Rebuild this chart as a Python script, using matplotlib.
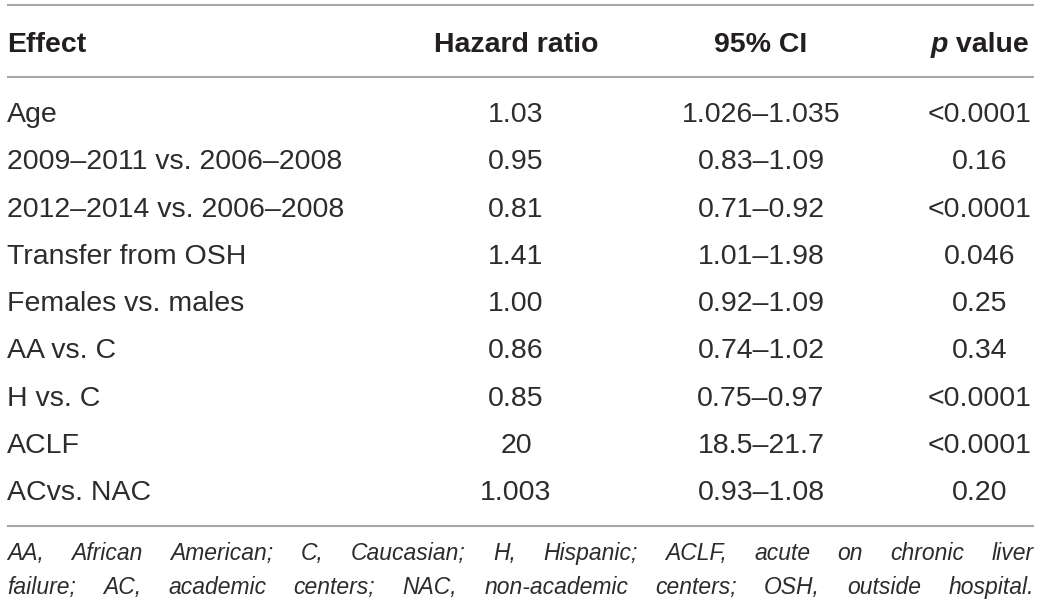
import matplotlib
matplotlib.use("Agg")
import matplotlib.pyplot as plt

effects = ["Age", "2009–2011 vs. 2006–2008", "2012–2014 vs. 2006–2008",
           "Transfer from OSH", "Females vs. males", "AA vs. C", "H vs. C",
           "ACLF", "ACvs. NAC"]
hazard = ["1.03", "0.95", "0.81", "1.41", "1.00", "0.86", "0.85", "20", "1.003"]
ci = ["1.026–1.035", "0.83–1.09", "0.71–0.92", "1.01–1.98", "0.92–1.09",
      "0.74–1.02", "0.75–0.97", "18.5–21.7", "0.93–1.08"]
pvals = ["<0.0001", "0.16", "<0.0001", "0.046", "0.25", "0.34", "<0.0001",
         "<0.0001", "0.20"]
footnote = ["AA, African American; C, Caucasian; H, Hispanic; ACLF, acute on chronic liver",
            "failure; AC, academic centers; NAC, non-academic centers; OSH, outside hospital."]

W, H = 1043, 612
FONT = "Liberation Sans"
TXT = "#231f20"
BODY = "#2e2b2c"
RULE = "#a6a6a6"

fig = plt.figure(figsize=(W / 100, H / 100), dpi=100)
ax = fig.add_axes([0, 0, 1, 1])
ax.set_xlim(0, W)
ax.set_ylim(H, 0)
ax.axis("off")

left, right = 7, 1034
col_hr, col_ci, col_p = 516, 761, 980
fs = 20.5

# rules
for y in (5, 77, 526):
    ax.plot([left, right], [y, y], color=RULE, lw=1.5, solid_capstyle="butt")

# header
hy = 52
ax.text(left, hy, "Effect", fontsize=fs, fontweight="bold", family=FONT,
        color=TXT, va="baseline", ha="left")
ax.text(col_hr, hy, "Hazard ratio", fontsize=fs, fontweight="bold", family=FONT,
        color=TXT, va="baseline", ha="center")
ax.text(col_ci, hy, "95% CI", fontsize=fs, fontweight="bold", family=FONT,
        color=TXT, va="baseline", ha="center")

fig.canvas.draw()
renderer = fig.canvas.get_renderer()
tp = ax.text(0, hy, "p", fontsize=fs, fontweight="bold", fontstyle="italic",
             family=FONT, color=TXT, va="baseline", ha="left")
tv = ax.text(0, hy, "\u00a0value", fontsize=fs, fontweight="bold", family=FONT,
             color=TXT, va="baseline", ha="left")
wp = tp.get_window_extent(renderer).width
wv = tv.get_window_extent(renderer).width
x0 = col_p - (wp + wv) / 2
tp.set_x(x0)
tv.set_x(x0 + wp)

# body rows
y0, dy = 122, 47.3
for i in range(len(effects)):
    y = y0 + i * dy
    ax.text(left, y, effects[i], fontsize=fs, family=FONT, color=BODY,
            va="baseline", ha="left")
    ax.text(col_hr, y, hazard[i], fontsize=fs, family=FONT, color=BODY,
            va="baseline", ha="center")
    ax.text(col_ci, y, ci[i], fontsize=fs, family=FONT, color=BODY,
            va="baseline", ha="center")
    ax.text(col_p, y, pvals[i], fontsize=fs, family=FONT, color=BODY,
            va="baseline", ha="center")

# footnote, justified word by word
fn_fs = 16.5
for j, line in enumerate(footnote):
    y = 560 + j * 34
    words = line.split(" ")
    items = [ax.text(0, y, w, fontsize=fn_fs, fontstyle="italic", family=FONT,
                     color=BODY, va="baseline", ha="left") for w in words]
    widths = [t.get_window_extent(renderer).width for t in items]
    gap = (right - left - sum(widths)) / (len(words) - 1)
    x = left
    for t, w in zip(items, widths):
        t.set_x(x)
        x += w + gap

fig.savefig("out.png", dpi=100)
